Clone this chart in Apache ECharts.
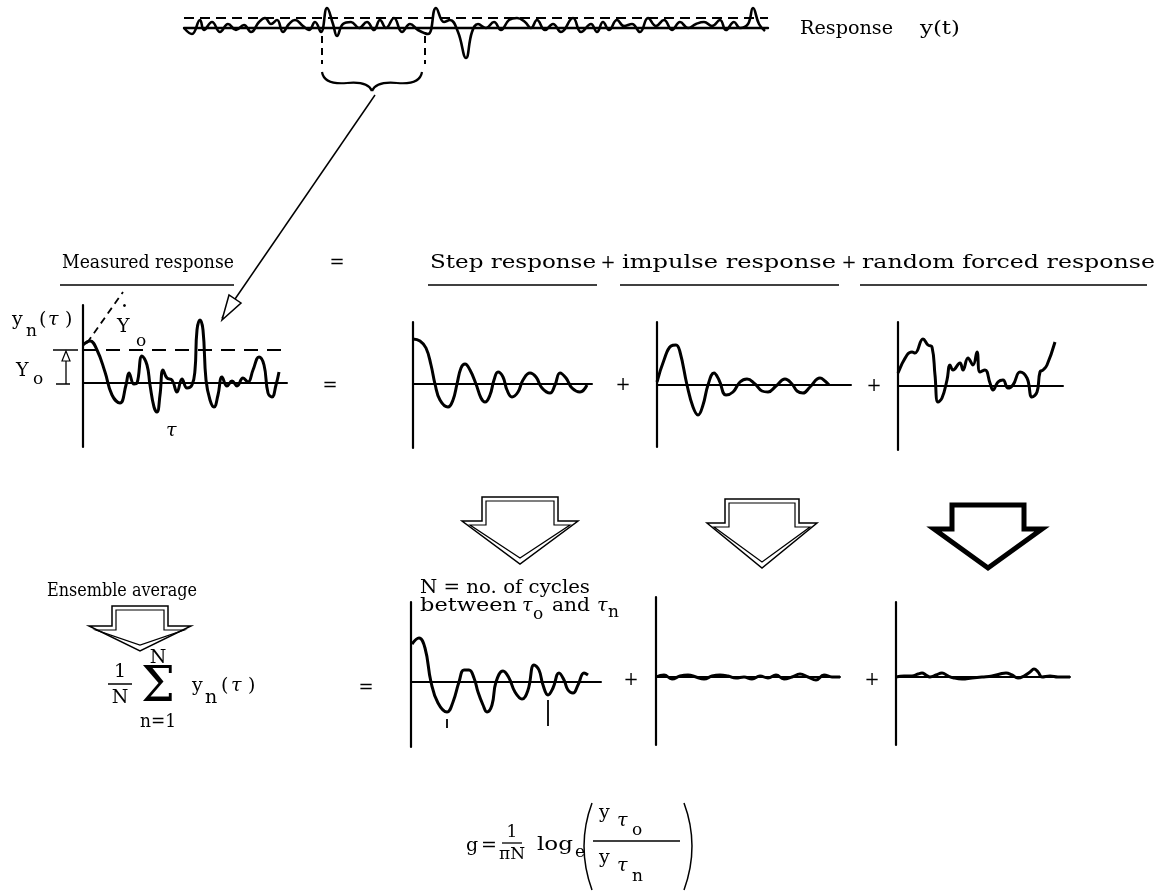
<!DOCTYPE html>
<html><head><meta charset="utf-8">
<script src="https://cdn.jsdelivr.net/npm/echarts@6/dist/echarts.min.js"></script>
<style>html,body{margin:0;padding:0;background:#fff}#c{width:1160px;height:893px}</style>
</head><body><div id="c"></div>
<script>
// ---- data: [time, response] ----
const stripWave = [[0,0],[8,-6],[16,8],[20,-2],[28,6],[36,-4],[44,4],[52,-2],[60,3],[67,-4],[75,6],[81,10],[87,4],[93,8],[99,-4],[105,4],[111,8],[119,2],[125,-2],[131,6],[137,-4],[143,20],[149,4],[153,-8],[159,4],[167,6],[175,0],[183,6],[190,-2],[196,8],[202,0],[210,10],[218,-4],[226,4],[234,-2],[244,-6],[252,20],[260,6],[266,8],[274,-4],[282,-30],[288,-4],[294,4],[302,0],[310,6],[317,-2],[325,8],[333,10],[341,6],[347,0],[353,8],[361,-2],[369,4],[377,-4],[389,10],[397,-4],[407,4],[413,-4],[419,6],[425,-2],[433,8],[440,2],[448,4],[456,-4],[464,10],[472,2],[480,8],[488,-2],[496,6],[504,0],[512,4],[520,6],[528,2],[536,8],[542,-2],[550,6],[556,0],[564,4],[569,20],[575,4],[581,-3]];
const measuredWave = [[0,38],[7,42],[14,33],[22,11],[29,-12],[37,-20],[43,-2],[46,10],[51,-1],[54,0],[59,27],[64,18],[67,-2],[71,-24],[74,-29],[77,-12],[80,13],[84,5],[89,3],[94,-9],[99,4],[104,-5],[109,-2],[112,13],[114,53],[117,63],[120,53],[123,3],[127,-17],[131,-24],[135,-12],[139,6],[144,-3],[149,2],[154,-3],[160,5],[165,1],[170,13],[176,26],[181,18],[185,-10],[189,-14],[193,-2],[196,11]];
const stepWave = [[0,45],[7,43],[13,36],[18,19],[22,0],[27,-16],[35,-23],[40,-16],[44,0],[48,16],[52,20],[57,14],[63,0],[68,-14],[72,-18],[77,-11],[81,4],[85,12],[90,7],[94,-6],[99,-13],[105,-8],[110,4],[117,11],[123,7],[129,-4],[137,-9],[142,-1],[147,11],[153,6],[159,-4],[167,-8],[174,-1]];
const impulseWave = [[0,3],[7,25],[14,39],[19,40],[23,33],[30,0],[36,-22],[41,-30],[46,-20],[51,0],[57,12],[62,5],[69,-10],[76,-7],[83,3],[90,6],[98,1],[105,-6],[111,-7],[119,-1],[128,6],[135,1],[140,-6],[146,-8],[153,-2],[163,7],[168,4],[172,0]];
const randomWave = [[0,13],[9,31],[14,34],[17,33],[25,47],[30,41],[34,39],[37,11],[40,-16],[44,-12],[49,6],[52,21],[55,16],[62,23],[65,16],[70,28],[75,21],[79,34],[82,14],[87,16],[92,3],[95,-4],[100,4],[105,6],[110,-2],[115,1],[122,14],[129,8],[134,-11],[139,-6],[142,14],[145,16],[149,21],[157,44]];
const stepAvgWave = [[1,38],[8,44],[14,34],[20,0],[27,-21],[36,-30],[42,-20],[48,0],[53,12],[58,12],[63,4],[67,-10],[72,-23],[76,-30],[81,-23],[85,0],[92,11],[98,4],[104,-10],[111,-17],[117,-8],[123,17],[128,12],[132,-3],[137,-13],[142,-6],[148,9],[153,2],[157,-8],[162,-11],[167,-3],[173,9],[177,7]];
const impulseAvgWave = [[0,0],[8,2],[16,-2],[24,1],[32,2],[40,0],[48,-2],[56,1],[64,2],[72,1],[80,-1],[88,0],[96,-2],[104,1],[112,-1],[120,2],[128,-2],[136,0],[144,3],[152,0],[160,-3],[168,2],[176,0],[184,0]];
const randomAvgWave = [[0,0],[8,1],[16,1],[22,3],[26,4],[30,2],[34,0],[40,2],[46,4],[52,1],[58,-1],[66,-2],[76,-1],[86,0],[96,1],[104,3],[110,4],[116,2],[122,-1],[128,1],[134,5],[138,8],[142,5],[146,0],[154,1],[162,0],[174,0]];
const tauTicks = [[36,-37,-46],[137,-18,-44]];
const measuredLevel = 33;   // Y0 dashed level
const stripLevel = 10;      // dashed level of y(t)

// ---- layout ----
const panels = [
  {rect:[184,6,584,54], x:[0,584], y:[-32,22], wave:stripWave, vAxis:false, w:2.6},
  {rect:[83,305,204,142], x:[0,204], y:[-64,78], wave:measuredWave, vAxis:true, w:3},
  {rect:[413,322,179,126], x:[0,179], y:[-64,62], wave:stepWave, vAxis:true, w:3},
  {rect:[657,322,194,125], x:[0,194], y:[-62,63], wave:impulseWave, vAxis:true, w:3},
  {rect:[898,322,165,128], x:[0,165], y:[-64,64], wave:randomWave, vAxis:true, w:3},
  {rect:[411,602,190,145], x:[0,190], y:[-65,80], wave:stepAvgWave, vAxis:true, w:3},
  {rect:[656,597,184,148], x:[0,184], y:[-68,80], wave:impulseAvgWave, vAxis:true, w:3},
  {rect:[896,602,174,143], x:[0,174], y:[-68,75], wave:randomAvgWave, vAxis:true, w:3}
];
const SERIF = '"DejaVu Serif", "Liberation Serif", serif';
const grid=[], xAxis=[], yAxis=[], series=[];
panels.forEach((p,i)=>{
  grid.push({left:p.rect[0], top:p.rect[1], width:p.rect[2], height:p.rect[3]});
  xAxis.push({type:'value', gridIndex:i, min:p.x[0], max:p.x[1], axisLine:{show:true,onZero:true,lineStyle:{color:'#000',width:i===0?2.4:2}}, axisTick:{show:false}, axisLabel:{show:false}, splitLine:{show:false}});
  yAxis.push({type:'value', gridIndex:i, min:p.y[0], max:p.y[1], axisLine:{show:p.vAxis,onZero:false,lineStyle:{color:'#000',width:2.2}}, axisTick:{show:false}, axisLabel:{show:false}, splitLine:{show:false}});
  const s = {type:'line', xAxisIndex:i, yAxisIndex:i, data:p.wave, showSymbol:false, smooth:0.45, clip:false,
    lineStyle:{color:'#000', width:p.w}, silent:true, animation:false};
  if (i===0) s.markLine = {silent:true, symbol:'none', label:{show:false}, lineStyle:{color:'#000',type:[10,6],width:1.8}, data:[{yAxis:stripLevel}]};
  if (i===1) s.markLine = {silent:true, symbol:'none', label:{show:false}, lineStyle:{color:'#000',type:[14,9],width:1.8}, data:[{yAxis:measuredLevel}]};
  if (i===5) s.markLine = {silent:true, symbol:'none', label:{show:false}, lineStyle:{color:'#000',type:'solid',width:1.8},
    data: tauTicks.map(t=>[{coord:[t[0],t[1]]},{coord:[t[0],t[2]]}])};
  series.push(s);
});

const chart = echarts.init(document.getElementById('c'), null, {renderer:'canvas'});
const mctx = document.createElement('canvas').getContext('2d');
function fontStr(size,opt){ opt=opt||{}; return (opt.italic?'italic ':'')+(opt.bold?'bold ':'')+size+'px '+SERIF; }
// text; if opt.w is given the text is stretched horizontally to that width
function txt(t,x,y,size,opt){ opt=opt||{}; const f=fontStr(size,opt); let sx=1;
  if (opt.w){ mctx.font=f; sx = opt.w / mctx.measureText(t).width; }
  return {type:'text', silent:true, x:x, y:y, scaleX:sx, style:{text:t, x:0, y:0, fill:'#000', font:f, textAlign:opt.align||'left', textVerticalAlign:'middle'}}; }
function ln(x1,y1,x2,y2,w,dash){ return {type:'line', silent:true, shape:{x1,y1,x2,y2}, style:{stroke:'#000', lineWidth:w||1.5, lineDash:dash||null}}; }
function qc(x1,y1,cx,cy,x2,y2,w){ return {type:'bezierCurve', silent:true, shape:{x1,y1,x2,y2,cpx1:cx,cpy1:cy}, style:{stroke:'#000', lineWidth:w||1.5, fill:null}}; }
function poly(pts,w,fill){ return {type:'polygon', silent:true, shape:{points:pts}, style:{stroke:'#000', lineWidth:w, fill:fill||null, lineJoin:'miter'}}; }
function arrowPts(cx,top,shaftHalf,wingHalf,shoulder,tip){
  return [[cx-shaftHalf,top],[cx+shaftHalf,top],[cx+shaftHalf,shoulder],[cx+wingHalf,shoulder],[cx,tip],[cx-wingHalf,shoulder],[cx-shaftHalf,shoulder]];
}

const g = [];
// top strip label, brackets, brace, long arrow
g.push(txt('Response', 800, 29, 18, {w:93}));
g.push(txt('y(t)', 920, 29, 18, {w:40}));
g.push(ln(322,36,322,64,2,[7,5]));
g.push(ln(425,36,425,64,2,[7,5]));
g.push(qc(322,72,324,85,347,83,2.2));
g.push(qc(347,83,368,81,372,91,2.2));
g.push(qc(372,91,376,81,397,83,2.2));
g.push(qc(397,83,420,85,422,72,2.2));
g.push(ln(375,95,222,318,1.5));
g.push(poly([[222,320],[229,295],[241,303]],1.5,'#fff'));

// headings
g.push(txt('Measured response', 62, 263, 18, {w:172}));
g.push(ln(60,285,234,285,1.3));
g.push(txt('=', 337, 263, 18, {align:'center'}));
g.push(txt('Step response', 430, 263, 18, {w:166}));
g.push(txt('+', 608, 263, 18, {align:'center'}));
g.push(txt('impulse response', 622, 263, 18, {w:214}));
g.push(txt('+', 849, 263, 18, {align:'center'}));
g.push(txt('random forced response', 862, 263, 18, {w:293}));
g.push(ln(428,285,597,285,1.3));
g.push(ln(620,285,839,285,1.3));
g.push(ln(860,285,1147,285,1.3));

// measured panel labels
g.push(txt('y', 12, 320, 19));
g.push(txt('n', 26, 332, 17));
g.push(txt('(', 39, 320, 19));
g.push(txt('τ', 48, 320, 19, {italic:true}));
g.push(txt(')', 65, 320, 19));
g.push(txt('Y', 117, 327, 19));
g.push(txt('·', 121, 307, 22));
g.push(txt('o', 136, 342, 17));
g.push(txt('Y', 16, 371, 19));
g.push(txt('o', 33, 380, 17));
g.push(txt('τ', 166, 431, 19, {italic:true}));
g.push(ln(53,350,78,350,1.5));
g.push(ln(56,384,70,384,1.5));
g.push(ln(66,384,66,352,1.3));
g.push(poly([[66,351],[62,361],[70,361]],1.2,'#fff'));

g.push(txt('=', 330, 386, 18, {align:'center'}));
g.push(txt('+', 623, 385, 18, {align:'center'}));
g.push(txt('+', 874, 386, 18, {align:'center'}));

// hollow arrows
g.push(poly(arrowPts(520,497,38,58,521,564),1.5));
g.push(poly(arrowPts(520,501,34,50,525,558),1.2));
g.push(poly(arrowPts(762,499,37,55,523,568),1.5));
g.push(poly(arrowPts(762,503,33,48,527,562),1.2));
g.push(poly(arrowPts(988,505,36,54,529,568),5));

// ensemble average
g.push(txt('Ensemble average', 47, 591, 18, {w:150}));
g.push(poly(arrowPts(140,606,28,51,626,651),1.5));
g.push(poly(arrowPts(140,610,24,44,630,645),1.2));
g.push(txt('1', 120, 672, 19, {align:'center'}));
g.push(ln(108,684,132,684,1.5));
g.push(txt('N', 120, 698, 19, {align:'center'}));
g.push(txt('N', 158, 658, 19, {align:'center'}));
g.push(txt('Σ', 158, 689, 48, {align:'center'}));
g.push(txt('n=1', 158, 722, 19, {align:'center', w:36}));
g.push(txt('y', 192, 686, 19));
g.push(txt('n', 205, 698, 19));
g.push(txt('(', 221, 686, 19));
g.push(txt('τ', 231, 686, 19, {italic:true}));
g.push(txt(')', 248, 686, 19));
g.push(txt('=', 366, 688, 18, {align:'center'}));
g.push(txt('+', 631, 680, 18, {align:'center'}));
g.push(txt('+', 872, 680, 18, {align:'center'}));

// N = no. of cycles
g.push(txt('N = no. of cycles', 420, 588, 18, {w:170}));
g.push(txt('between', 420, 606, 18, {w:97}));
g.push(txt('τ', 522, 606, 19, {italic:true}));
g.push(txt('o', 533, 615, 17));
g.push(txt('and', 552, 606, 18, {w:38}));
g.push(txt('τ', 597, 606, 19, {italic:true}));
g.push(txt('n', 608, 613, 17));

// g formula
g.push(txt('g', 466, 846, 19));
g.push(txt('=', 481, 846, 19));
g.push(txt('1', 512, 833, 17, {align:'center'}));
g.push(ln(502,843,522,843,1.3));
g.push(txt('πN', 512, 855, 17, {align:'center'}));
g.push(txt('log', 537, 845, 19, {w:36}));
g.push(txt('e', 575, 853, 17));
g.push(qc(592,803,576,846,592,890,1.5));
g.push(qc(684,803,700,846,684,890,1.5));
g.push(txt('y', 599, 813, 19));
g.push(txt('τ', 617, 821, 19, {italic:true}));
g.push(txt('o', 632, 831, 17));
g.push(ln(593,841,680,841,1.3));
g.push(txt('y', 599, 858, 19));
g.push(txt('τ', 617, 866, 19, {italic:true}));
g.push(txt('n', 632, 877, 17));

chart.setOption({animation:false, backgroundColor:'#fff', grid, xAxis, yAxis, series, graphic:{elements:g}});

// dashed tangent line in measured panel, placed through the panel's own scale
const a = chart.convertToPixel({gridIndex:1},[4,40]);
const b = chart.convertToPixel({gridIndex:1},[40,91]);
g.push(ln(a[0],a[1],b[0],b[1],1.8,[7,5]));
chart.setOption({graphic:{elements:g}});
</script></body></html>
